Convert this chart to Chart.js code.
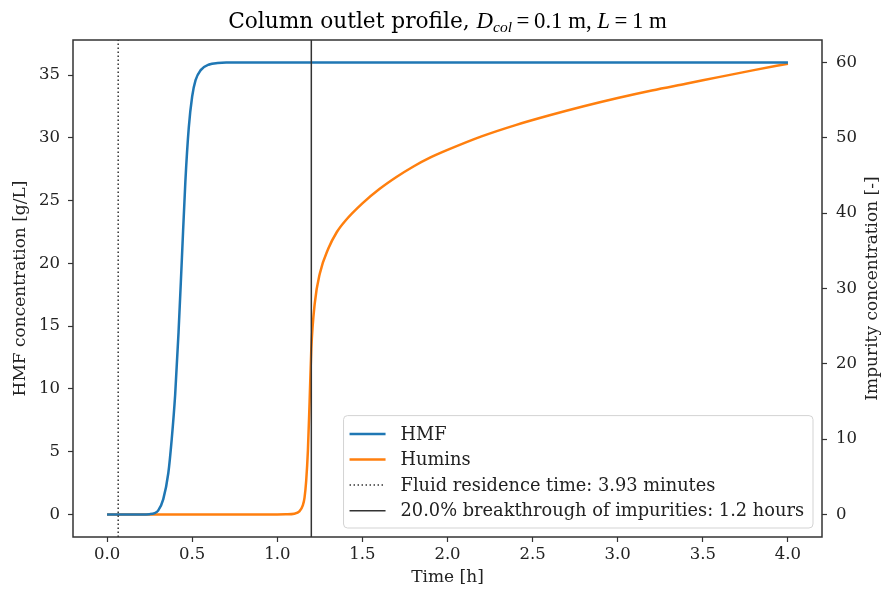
<!DOCTYPE html>
<html><head><meta charset="utf-8">
<script src="https://cdn.jsdelivr.net/npm/chart.js@4"></script>
<style>html,body{margin:0;padding:0;background:#fff;}#wrap{width:882px;height:590px;position:relative;}</style>
</head><body><div id="wrap"><canvas id="c" width="882" height="590"></canvas></div>
<script>
// ---- data ----
const hmfTime = [0, 0.1, 0.2, 0.25, 0.28, 0.30, 0.33, 0.36, 0.38, 0.40, 0.42, 0.44, 0.46, 0.48, 0.50, 0.52, 0.55, 0.60, 0.65, 0.7, 1.0, 1.5, 2.0, 2.5, 3.0, 3.5, 4.0];
const hmfConc = [0, 0, 0, 0.02, 0.1, 0.3, 1.2, 3.3, 6.0, 9.5, 14.5, 20.5, 26.5, 30.8, 33.3, 34.6, 35.4, 35.85, 35.97, 36, 36, 36, 36, 36, 36, 36, 36];
const huminsTime = [0, 0.5, 1.0, 1.05, 1.1, 1.13, 1.15, 1.16, 1.17, 1.18, 1.19, 1.2, 1.22, 1.25, 1.3, 1.35, 1.4, 1.5, 1.6, 1.7, 1.8, 1.9, 2.0, 2.2, 2.4, 2.6, 2.8, 3.0, 3.2, 3.4, 3.6, 3.8, 4.0];
const huminsConc = [0, 0, 0, 0.02, 0.1, 0.4, 1.2, 2.2, 4.5, 8.5, 15.0, 22.0, 28.0, 32.0, 35.3, 37.5, 39.0, 41.3, 43.2, 44.8, 46.2, 47.4, 48.4, 50.2, 51.7, 53.0, 54.2, 55.3, 56.3, 57.2, 58.1, 59.0, 59.85];
const residenceTimeH = 3.93 / 60;
const breakthroughTimeH = 1.2;
const xTickValues = [0, 0.5, 1.0, 1.5, 2.0, 2.5, 3.0, 3.5, 4.0];
const hmfTickValues = [0, 5, 10, 15, 20, 25, 30, 35];
const impTickValues = [0, 10, 20, 30, 40, 50, 60];
const seriesLabels = ['HMF', 'Humins', 'Fluid residence time: 3.93 minutes', '20.0% breakthrough of impurities: 1.2 hours'];
const axisTitles = {x: 'Time [h]', y: 'HMF concentration [g/L]', y2: 'Impurity concentration [-]'};

const SERIF = '"DejaVu Serif", serif';
const TXT = '#222';
const tickFont = {family: SERIF, size: 16.5};
const labelFont = {family: SERIF, size: 17};

function pts(xs, ys) { return xs.map((x, i) => ({x: x, y: ys[i]})); }
function setTicks(vals) { return s => { s.ticks = vals.map(v => ({value: v})); }; }

const titlePlugin = {
  id: 'mplTitle',
  afterDraw(chart) {
    const ctx = chart.ctx, ca = chart.chartArea;
    const parts = [
      {t: 'Column outlet profile, ', f: '21.7px ' + SERIF, dy: 0},
      {t: 'D', f: 'italic 22.8px "Liberation Serif"', dy: 0},
      {t: 'col', f: 'italic 15.5px "Liberation Serif"', dy: 4},
      {t: '\u2009=\u20090.1 m, ', f: '22.8px "Liberation Serif"', dy: 0},
      {t: 'L', f: 'italic 22.8px "Liberation Serif"', dy: 0},
      {t: '\u2009=\u20091 m', f: '22.8px "Liberation Serif"', dy: 0}
    ];
    ctx.save();
    let w = 0;
    parts.forEach(p => { ctx.font = p.f; p.w = ctx.measureText(p.t).width; w += p.w; });
    let x = (ca.left + ca.right) / 2 - w / 2;
    const base = 28;
    ctx.fillStyle = '#000';
    ctx.textBaseline = 'alphabetic';
    ctx.textAlign = 'left';
    parts.forEach(p => { ctx.font = p.f; ctx.fillText(p.t, x, base + p.dy); x += p.w; });
    // right axis title, reading bottom-to-top like the reference
    ctx.save();
    ctx.translate(873, (ca.top + ca.bottom) / 2);
    ctx.rotate(-Math.PI / 2);
    ctx.font = labelFont.size + 'px ' + SERIF;
    ctx.fillStyle = TXT;
    ctx.textAlign = 'center';
    ctx.textBaseline = 'middle';
    ctx.fillText(axisTitles.y2, 0, 0);
    ctx.restore();
    ctx.restore();
  }
};

const framePlugin = {
  id: 'frameLegend',
  afterDatasetsDraw(chart) {
    const ctx = chart.ctx, ca = chart.chartArea;
    ctx.save();
    ctx.strokeStyle = '#333';
    ctx.lineWidth = 1.5;
    ctx.strokeRect(ca.left, ca.top, ca.right - ca.left, ca.bottom - ca.top);
    // legend
    const ds = chart.data.datasets;
    ctx.font = '17.8px ' + SERIF;
    let tw = 0;
    ds.forEach(d => { tw = Math.max(tw, ctx.measureText(d.label).width); });
    const rowH = 25.6, handleX0 = 6, handleX1 = 42, textX = 57;
    const bw = textX + tw + 9, bh = rowH * ds.length + 10;
    const bx = ca.right - 9 - bw, by = ca.bottom - 9 - bh;
    const r = 4;
    ctx.beginPath();
    ctx.moveTo(bx + r, by); ctx.lineTo(bx + bw - r, by); ctx.arcTo(bx + bw, by, bx + bw, by + r, r);
    ctx.lineTo(bx + bw, by + bh - r); ctx.arcTo(bx + bw, by + bh, bx + bw - r, by + bh, r);
    ctx.lineTo(bx + r, by + bh); ctx.arcTo(bx, by + bh, bx, by + bh - r, r);
    ctx.lineTo(bx, by + r); ctx.arcTo(bx, by, bx + r, by, r);
    ctx.closePath();
    ctx.fillStyle = 'rgba(255,255,255,0.85)';
    ctx.fill();
    ctx.strokeStyle = '#d3d3d3';
    ctx.lineWidth = 1;
    ctx.stroke();
    ds.forEach((d, i) => {
      const cy = by + 5 + rowH * (i + 0.5) + 0.5;
      ctx.beginPath();
      ctx.setLineDash(d.borderDash || []);
      ctx.strokeStyle = d.borderColor;
      ctx.lineWidth = d.borderWidth;
      ctx.moveTo(bx + handleX0, cy); ctx.lineTo(bx + handleX1, cy);
      ctx.stroke();
      ctx.setLineDash([]);
      ctx.fillStyle = TXT;
      ctx.textBaseline = 'middle';
      ctx.textAlign = 'left';
      ctx.fillText(d.label, bx + textX, cy + 1);
    });
    ctx.restore();
  }
};

new Chart(document.getElementById('c'), {
  type: 'line',
  data: {
    datasets: [
      {label: seriesLabels[0], data: pts(hmfTime, hmfConc), yAxisID: 'y', borderColor: '#1f77b4', borderWidth: 2.5, pointRadius: 0, cubicInterpolationMode: 'monotone', fill: false, order: 2},
      {label: seriesLabels[1], data: pts(huminsTime, huminsConc), yAxisID: 'y2', borderColor: '#ff7f0e', borderWidth: 2.5, pointRadius: 0, cubicInterpolationMode: 'monotone', fill: false, order: 2},
      {label: seriesLabels[2], data: [{x: residenceTimeH, y: -1.8}, {x: residenceTimeH, y: 37.8}], yAxisID: 'y', borderColor: '#333', borderWidth: 1.5, borderDash: [1.5, 2.5], pointRadius: 0, fill: false, order: 1},
      {label: seriesLabels[3], data: [{x: breakthroughTimeH, y: -1.8}, {x: breakthroughTimeH, y: 37.8}], yAxisID: 'y', borderColor: '#333', borderWidth: 1.5, pointRadius: 0, fill: false, order: 1}
    ]
  },
  options: {
    responsive: false,
    devicePixelRatio: 1,
    animation: false,
    layout: {padding: {top: 40, left: 0, right: 0, bottom: 0}},
    plugins: {legend: {display: false}, tooltip: {enabled: false}, title: {display: false}},
    scales: {
      x: {
        type: 'linear', position: 'bottom', min: -0.2, max: 4.2,
        afterFit: s => { s.height = 53; },
        afterBuildTicks: setTicks(xTickValues),
        ticks: {font: tickFont, color: TXT, padding: 3, maxRotation: 0, autoSkip: false, callback: v => v.toFixed(1)},
        grid: {drawOnChartArea: false, tickLength: 5, tickColor: '#333', tickWidth: 1.2},
        border: {display: false},
        title: {display: true, text: axisTitles.x, font: labelFont, color: TXT, padding: {top: 0, bottom: 2}}
      },
      y: {
        type: 'linear', position: 'left', min: -1.8, max: 37.8,
        afterFit: s => { s.width = 73; },
        afterBuildTicks: setTicks(hmfTickValues),
        ticks: {font: tickFont, color: TXT, padding: 8, autoSkip: false, callback: v => String(v)},
        grid: {drawOnChartArea: false, tickLength: 5, tickColor: '#333', tickWidth: 1.2},
        border: {display: false},
        title: {display: true, text: axisTitles.y, font: labelFont, color: TXT, padding: {top: 10, bottom: 0}}
      },
      y2: {
        type: 'linear', position: 'right', min: -3, max: 63,
        afterFit: s => { s.width = 60; },
        afterBuildTicks: setTicks(impTickValues),
        ticks: {font: tickFont, color: TXT, padding: 9, autoSkip: false, callback: v => String(v)},
        grid: {drawOnChartArea: false, tickLength: 5, tickColor: '#333', tickWidth: 1.2},
        border: {display: false},
        title: {display: false}
      }
    }
  },
  plugins: [titlePlugin, framePlugin]
});
</script>
</body></html>
